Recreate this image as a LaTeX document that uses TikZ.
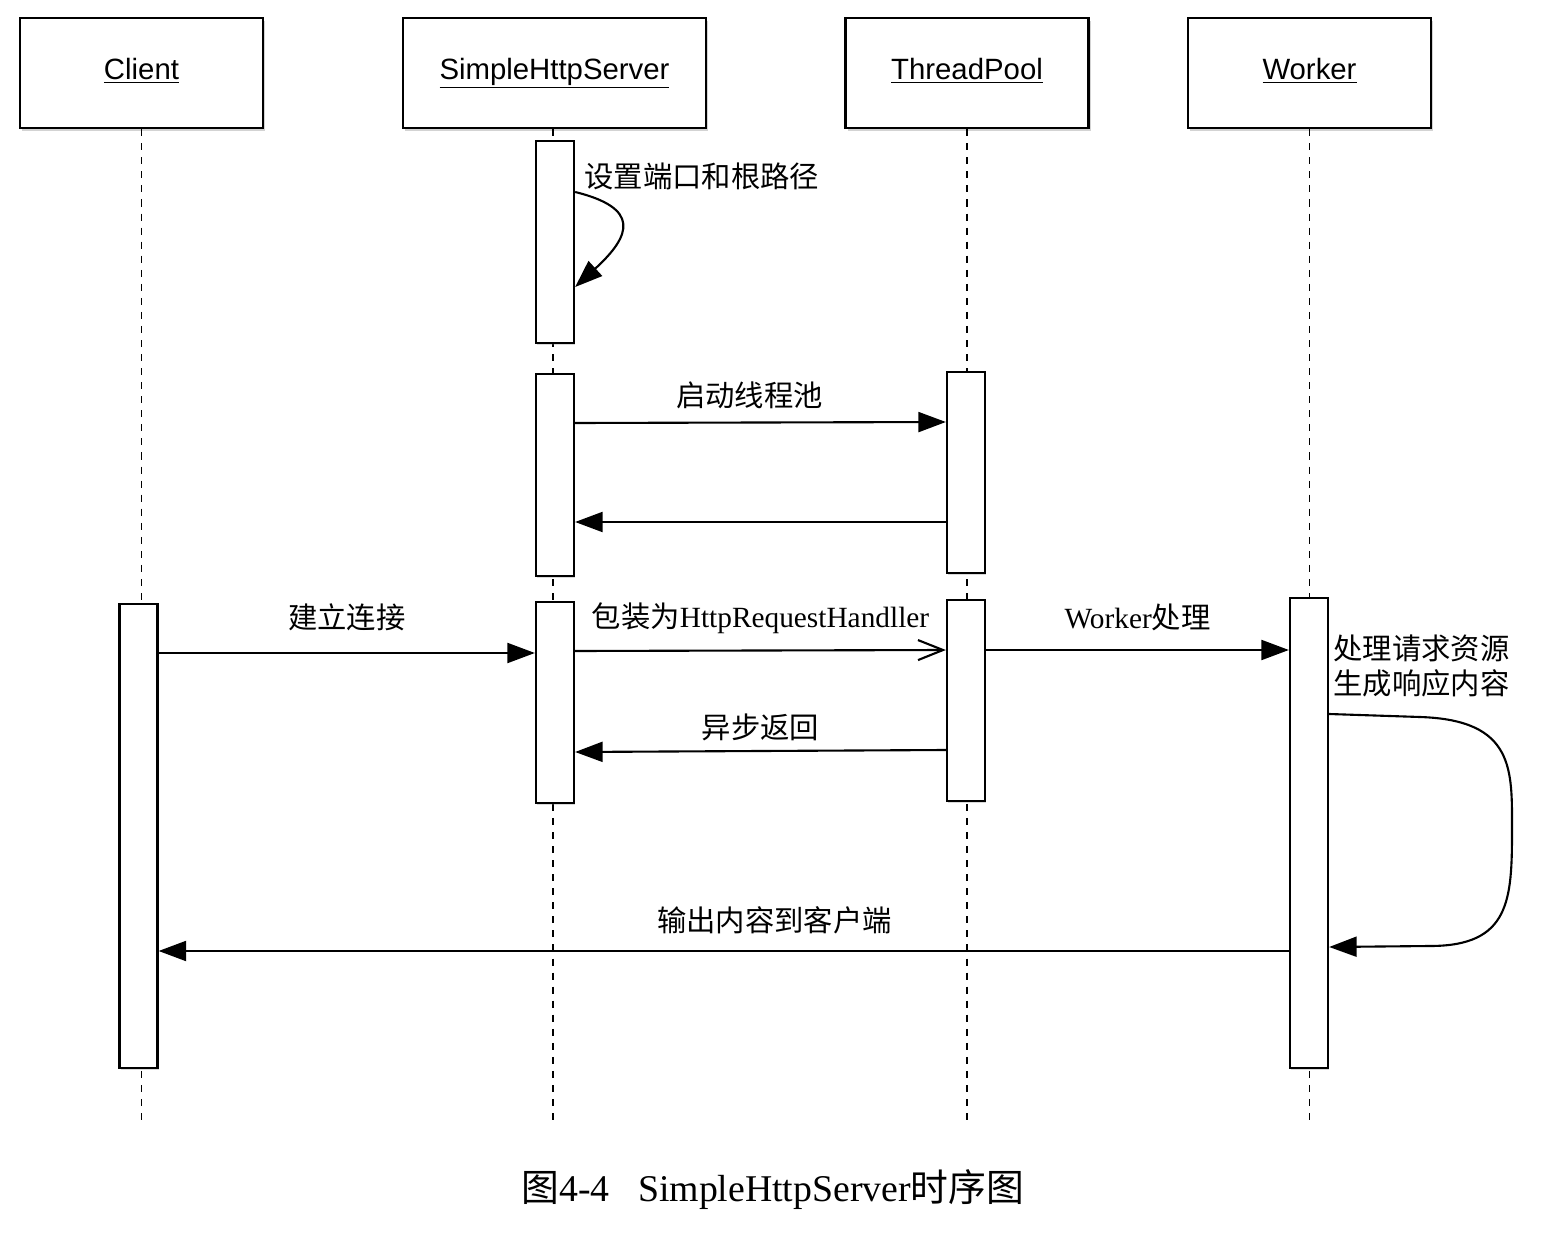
\documentclass[tikz,border=0pt]{standalone}
\usepackage{fontspec}
\setmainfont{Liberation Serif}
\setsansfont{Liberation Sans}
\newfontfamily\cjk{Noto Sans CJK SC}
\usetikzlibrary{arrows.meta,shadows}
\newcommand{\lblsize}{\fontsize{16.7}{20.4}\selectfont}
\newcommand{\zh}[1]{{\cjk #1}}

\tikzset{
  actor/.style={draw, line width=1.4pt, fill=white, minimum width=4.86cm,
    minimum height=2.2cm, font=\sffamily\lblsize,
    text height=1.2em, text depth=0.5em,
    drop shadow={shadow xshift=1.2pt, shadow yshift=-1.5pt, opacity=0.35}},
  bar/.style={draw, line width=1.3pt, fill=white, minimum width=0.76cm,
    inner sep=0pt,
    drop shadow={shadow xshift=0.8pt, shadow yshift=-1pt, opacity=0.3}},
  lifeline/.style={dash pattern=on 4pt off 4pt, line width=1.1pt},
  msg/.style={line width=1.2pt, -{Triangle[length=0.55cm,width=0.4cm]}},
  async/.style={line width=1.2pt, -{Straight Barb[length=0.5cm,width=0.4cm]}},
  lbl/.style={font=\cjk\lblsize, inner sep=0pt},
  mixlbl/.style={font=\lblsize, inner sep=0pt},
}

\begin{document}
\begin{tikzpicture}[x=0.02cm, y=-0.02cm]
\useasboundingbox (0,0) rectangle (1542,1240);

% heads
\node [actor] (client) at (141.5,73) {\underline{Client}};
\node [actor, minimum width=6.06cm] (server) at (554.5,73) {\underline{SimpleHttpServer}};
\node [actor] (pool) at (967,73) {\underline{ThreadPool}};
\node [actor] (worker) at (1309.5,73) {\underline{Worker}};

% lifelines
\draw [lifeline] (client.south) -- (client.south |- 0,1120);
\draw [lifeline] (server.south -| 553,0) -- (553,1120);
\draw [lifeline] (pool.south) -- (pool.south |- 0,1120);
\draw [lifeline] (worker.south) -- (worker.south |- 0,1120);

% activations
\node [bar, minimum height=4.04cm] (s1) at (555,242) {};
\node [bar, minimum height=4.04cm] (s2) at (555,475) {};
\node [bar, minimum height=4.02cm] (s3) at (555,702.5) {};
\node [bar, minimum height=4.02cm] (t1) at (966,472.5) {};
\node [bar, minimum height=4.02cm] (t2) at (966,700.5) {};
\node [bar, minimum height=9.28cm] (c1) at (138.5,836) {};
\node [bar, minimum height=9.4cm] (w1) at (1309,833) {};

% messages
\draw [msg] (s1.east |- 0,192) .. controls (640,208) and (632,235) .. (s1.east |- 0,287);
\node [lbl, anchor=west] (setup) at (584,176) {设置端口和根路径};

\path
(s2.east |- 0,423)
edge [msg]
node [lbl, above=7pt, pos=0.47] {启动线程池}
(t1.west |- 0,422)

(t1.west |- 0,522)
edge [msg]
(s2.east |- 0,522)

(c1.east |- 0,653)
edge [msg]
node [lbl, above=12pt] {建立连接}
(s3.west |- 0,653)

(s3.east |- 0,651)
edge [async]
node [mixlbl, above=9pt] {\zh{包装为}HttpRequestHandller}
(t2.west |- 0,650)

(t2.east |- 0,650)
edge [msg]
node [mixlbl, above=10.5pt] {Worker\zh{处理}}
(w1.west |- 0,650)

(t2.west |- 0,750)
edge [msg]
node [lbl, above=5pt] {异步返回}
(s3.east |- 0,752)

(w1.west |- 0,951)
edge [msg]
node [lbl, above=9pt, pos=0.455] {输出内容到客户端}
(c1.east |- 0,951)
;

\node [lbl, anchor=west, align=left] (note) at (1333,666) {处理请求资源\\生成响应内容};
\draw [msg] (w1.east |- 0,714) -- (1420,717)
  .. controls (1515,720) and (1512,770) .. (1512,830)
  .. controls (1512,900) and (1510,946) .. (1430,946)
  -- (w1.east |- 0,947);

% caption
\node [font=\fontsize{21.5}{24}\selectfont, inner sep=0pt] (caption) at (773,1190)
  {\zh{图}4-4\hspace{0.75em}SimpleHttpServer\zh{时序图}};
\end{tikzpicture}
\end{document}
